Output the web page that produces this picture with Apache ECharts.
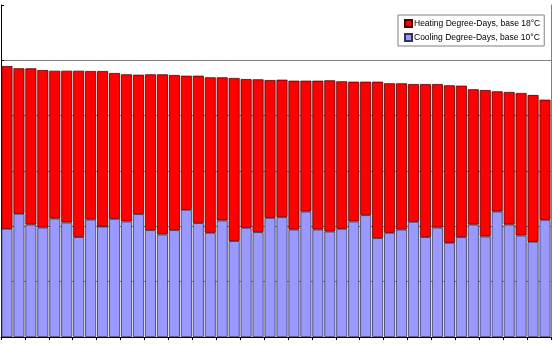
<!DOCTYPE html>
<html>
<head>
<meta charset="utf-8">
<script src="https://cdn.jsdelivr.net/npm/echarts@6/dist/echarts.min.js"></script>
<style>
  html, body { margin: 0; padding: 0; background: #fff; }
  #chart { width: 552px; height: 346px; }
</style>
</head>
<body>
<div id="chart"></div>
<script>
// stations, sorted by total degree-days (names not shown in the picture)
var stations = ['1', '2', '3', '4', '5', '6', '7', '8', '9', '10',
    '11', '12', '13', '14', '15', '16', '17', '18', '19', '20',
    '21', '22', '23', '24', '25', '26', '27', '28', '29', '30',
    '31', '32', '33', '34', '35', '36', '37', '38', '39', '40',
    '41', '42', '43', '44', '45', '46'];

// cooling degree-days, base 10°C (bottom, blue)
var cooling = [1955, 2226, 2032, 1978, 2141, 2069, 1805, 2123, 1996, 2135,
    2087, 2220, 1931, 1852, 1931, 2298, 2058, 1883, 2105, 1733,
    1973, 1895, 2153, 2166, 1942, 2267, 1942, 1906, 1955, 2087,
    2202, 1787, 1883, 1942, 2081, 1805, 1978, 1702, 1805, 2032,
    1816, 2267, 2032, 1834, 1720, 2117];

// heating degree-days, base 18°C (stacked on top, red)
var heating = [2942, 2630, 2824, 2847, 2671, 2743, 3007, 2684, 2811, 2636,
    2660, 2520, 2816, 2895, 2804, 2424, 2664, 2810, 2588, 2948,
    2689, 2762, 2491, 2484, 2690, 2365, 2690, 2733, 2666, 2527,
    2412, 2827, 2702, 2643, 2491, 2767, 2594, 2847, 2737, 2445,
    2648, 2173, 2396, 2576, 2654, 2172];

var chart = echarts.init(document.getElementById('chart'));

chart.setOption({
    animation: false,
    backgroundColor: '#fff',
    grid: {
        left: 1,
        right: 1,
        top: 5,
        bottom: 9
    },
    legend: {
        orient: 'vertical',
        left: 398,
        top: 15,
        padding: [4, 4, 4, 6],
        icon: 'rect',
        itemWidth: 7,
        itemHeight: 7,
        itemGap: 5,
        backgroundColor: '#fff',
        borderColor: '#808080',
        borderWidth: 1,
        borderRadius: 0,
        textStyle: {
            fontFamily: 'Liberation Sans, Arial',
            fontSize: 8.5,
            color: '#000',
            padding: [0, 0, 0, -3]
        },
        data: ['Heating Degree-Days, base 18°C', 'Cooling Degree-Days, base 10°C']
    },
    xAxis: {
        type: 'category',
        data: stations,
        axisLine: { lineStyle: { color: '#000', width: 1 } },
        axisTick: { show: true, length: 3, lineStyle: { color: '#000' } },
        axisLabel: { show: false },
        splitLine: { show: false }
    },
    yAxis: [{
        type: 'value',
        min: 0,
        max: 6000,
        interval: 1000,
        axisLine: { show: true, lineStyle: { color: '#000' } },
        axisTick: { show: true, inside: true, length: 3, lineStyle: { color: '#000' } },
        axisLabel: { show: false },
        splitLine: { showMaxLine: false, lineStyle: { color: '#808080', width: 1 } }
    }, {
        // right frame of the plot area
        type: 'value',
        position: 'right',
        min: 0,
        max: 6000,
        interval: 1000,
        axisLine: { show: true, lineStyle: { color: '#808080' } },
        axisTick: { show: false },
        axisLabel: { show: false },
        splitLine: { show: false }
    }],
    series: [
        {
            name: 'Cooling Degree-Days, base 10°C',
            type: 'bar',
            stack: 'dd',
            data: cooling,
            barCategoryGap: '8%',
            itemStyle: { color: '#9999FF', borderColor: '#333355', borderWidth: 0.8 }
        },
        {
            name: 'Heating Degree-Days, base 18°C',
            type: 'bar',
            stack: 'dd',
            data: heating,
            barCategoryGap: '8%',
            itemStyle: { color: '#FF0000', borderColor: '#550000', borderWidth: 0.8 }
        }
    ]
});
</script>
</body>
</html>
